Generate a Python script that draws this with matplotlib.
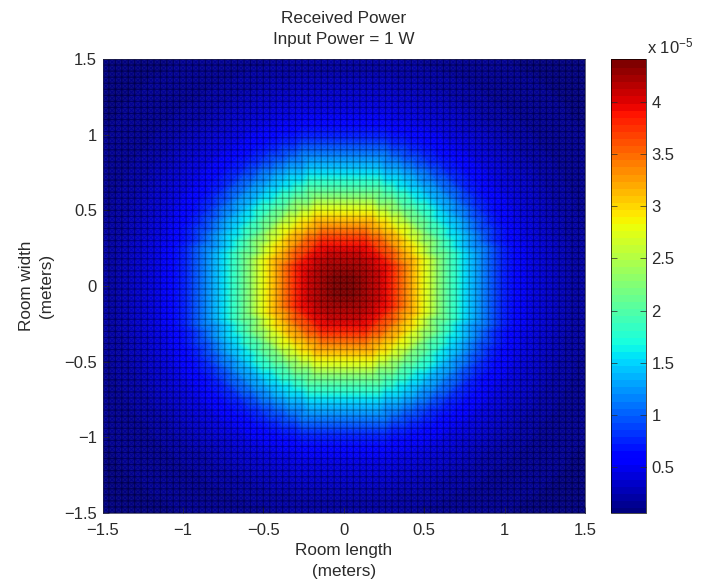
import matplotlib
matplotlib.use('Agg')
import matplotlib.pyplot as plt
import numpy as np

plt.rcParams['font.family'] = ['Liberation Sans', 'DejaVu Sans']
plt.rcParams['mathtext.fontset'] = 'custom'
plt.rcParams['mathtext.rm'] = 'Liberation Sans'
plt.rcParams['mathtext.default'] = 'regular'

# received power (x 1e-5 W), one value per 0.04 m ring around the centre
ring_power = [4.41, 4.40, 4.37, 4.33, 4.27, 4.19, 4.08, 3.95, 3.80, 3.63,
              3.44, 3.23, 3.02, 2.80, 2.58, 2.36, 2.15, 1.95, 1.76, 1.59,
              1.44, 1.30, 1.16, 1.04, 0.92, 0.80, 0.72, 0.65, 0.58, 0.52,
              0.46, 0.42, 0.38, 0.34, 0.31, 0.28, 0.25, 0.23, 0.21, 0.19,
              0.18, 0.17, 0.16, 0.15, 0.14, 0.13, 0.12, 0.11, 0.10, 0.09,
              0.08, 0.07, 0.07, 0.06]
cell_size = 0.04
room_half = 1.5
axis_ticks = [-1.5, -1, -0.5, 0, 0.5, 1, 1.5]
axis_labels = ['\u22121.5', '\u22121', '\u22120.5', '0', '0.5', '1', '1.5']
cbar_ticks = [0.5, 1, 1.5, 2, 2.5, 3, 3.5, 4]
cbar_labels = ['0.5', '1', '1.5', '2', '2.5', '3', '3.5', '4']

W, H = 710, 583
text_col = '#2a2a2a'

edges = np.arange(-37.5, 38.5) * cell_size
xx, yy = np.meshgrid(edges, edges)
rings = np.rint(np.hypot(xx, yy) / cell_size).astype(int)
power = np.array(ring_power)[rings]

fig = plt.figure(figsize=(W / 100, H / 100), dpi=100)
ax = fig.add_axes([102.5 / W, 1 - 513 / H, 482.5 / W, 454 / H])
cax = fig.add_axes([610.5 / W, 1 - 513 / H, 35.5 / W, 454 / H])

cmap = plt.get_cmap('jet', 64)
mesh = ax.pcolormesh(edges, edges, power, cmap=cmap, vmin=0.06, vmax=4.41,
                     shading='gouraud', alpha=0.94)
# soft cell borders, not snapped to pixels so the spacing stays even
ax.vlines(edges, -room_half, room_half, color='k', alpha=0.28, linewidth=1.0, snap=False)
ax.hlines(edges, -room_half, room_half, color='k', alpha=0.28, linewidth=1.0, snap=False)

ax.set_xlim(-room_half, room_half)
ax.set_ylim(-room_half, room_half)
ax.set_xticks(axis_ticks, axis_labels)
ax.set_yticks(axis_ticks, axis_labels)
ax.tick_params(direction='in', length=4, width=0.5, labelsize=12, colors=text_col)
ax.tick_params(axis='x', pad=7)
ax.tick_params(axis='y', pad=4)
for s in ax.spines.values():
    s.set_linewidth(0.5)
    s.set_color('#222244')

ax.set_title('Received Power\nInput Power = 1 W', fontsize=12.3, color=text_col, pad=11, linespacing=1.45)
ax.set_xlabel('Room length\n(meters)', fontsize=12.3, color=text_col, labelpad=4, linespacing=1.45)
ax.set_ylabel('Room width\n(meters)', fontsize=12.3, color=text_col, labelpad=7, linespacing=1.45)

# colour bar drawn on its own so it keeps the full jet colours of the scale
sm = plt.cm.ScalarMappable(norm=mesh.norm, cmap=cmap)
cb = fig.colorbar(sm, cax=cax)
cb.solids.set_edgecolor('face')
cb.set_ticks(cbar_ticks, labels=cbar_labels)
cb.ax.tick_params(direction='in', length=4, width=0.5, labelsize=12, pad=4, colors=text_col, left=True, right=True)
cb.outline.set_linewidth(0.5)
fig.text(647 / W, 1 - 46 / H, 'x 10$^{-5}$', fontsize=12, color=text_col, va='center', ha='left')

fig.savefig('out.png', dpi=100)
